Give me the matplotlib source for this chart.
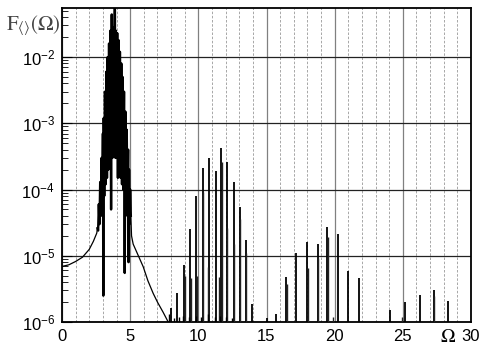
import numpy as np
import matplotlib
matplotlib.use("Agg")
from matplotlib import pyplot as plt
from matplotlib.ticker import MultipleLocator, LogLocator, NullFormatter, FormatStrFormatter

# smooth background curve, left and right of the main resonance
left_omega = [0.0, 0.5, 1.0, 1.5, 2.0, 2.3, 2.55]
left_F = [6.9e-6, 7.3e-6, 8.2e-6, 9.5e-6, 1.25e-5, 1.65e-5, 2.2e-5]

# main resonance, read as a jagged line (alternating tops and dips)
peak_omega = [2.60, 2.65, 2.70, 2.75, 2.80, 2.85, 2.90, 2.95, 3.00, 3.03,
              3.06, 3.10, 3.15, 3.20, 3.25, 3.30, 3.35, 3.40, 3.45, 3.50,
              3.55, 3.60, 3.65, 3.70, 3.75, 3.80, 3.85, 3.88, 3.92, 3.95,
              4.00, 4.05, 4.10, 4.15, 4.20, 4.25, 4.30, 4.35, 4.40, 4.45,
              4.50, 4.55, 4.60, 4.65, 4.70, 4.75, 4.80, 4.85, 4.88, 4.92,
              4.96, 5.00, 5.05]
peak_F = [2.6e-5, 2.4e-5, 6e-5, 3e-5, 1.3e-4, 4e-5, 3e-4, 5e-5, 7e-4, 2.5e-6,
          1.2e-3, 8e-5, 3e-3, 1.2e-4, 6e-3, 1.5e-4, 1e-2, 2e-4, 1.6e-2, 2.5e-4,
          2.5e-2, 5e-5, 4.4e-2, 3e-4, 2.8e-2, 4e-4, 2.6e-2, 8e-2, 3e-4, 2.5e-2,
          3e-4, 2.3e-2, 1.5e-4, 1.8e-2, 2e-4, 1.2e-2, 1.5e-4, 8e-3, 1.2e-4, 5e-3,
          1e-4, 3e-3, 5.5e-6, 1.5e-3, 6e-5, 8e-4, 4e-5, 4e-4, 8e-6, 2e-4,
          3e-5, 1e-4, 4e-5]

right_omega = [5.10, 5.22, 5.60, 5.96, 6.30, 6.69, 7.00, 7.42, 7.79]
right_F = [2e-5, 1.5e-5, 1e-5, 6.8e-6, 4.2e-6, 2.7e-6, 2e-6, 1.4e-6, 1e-6]

# higher harmonics: tall lines
spike_omega = [8.00, 8.47, 8.94, 9.38, 9.86, 10.31, 10.79, 11.26, 11.67, 12.11,
               12.58, 13.04, 13.48, 13.97, 15.00, 15.73, 16.46, 17.19, 18.00, 18.75,
               19.46, 20.25, 20.98, 21.76, 24.08, 25.18, 26.23, 27.25, 28.33]
spike_F = [1.6e-6, 2.7e-6, 7.2e-6, 2.5e-5, 8e-5, 2.1e-4, 3e-4, 1.9e-4, 4.2e-4, 2.6e-4,
           1.3e-4, 5.4e-5, 1.7e-5, 1.9e-6, 1.15e-6, 1.3e-6, 4.7e-6, 1.1e-5, 1.6e-5, 1.5e-5,
           2.7e-5, 2.1e-5, 5.8e-6, 4.6e-6, 1.5e-6, 2e-6, 2.6e-6, 3e-6, 2.1e-6]

# companion lines next to the tall ones
side_omega = [8.99, 9.43, 9.91, 10.36, 10.74, 11.50, 11.76, 12.07, 12.63, 13.09,
              13.53, 16.50, 17.10, 18.03, 18.78, 19.50, 19.90, 24.96, 27.30]
side_F = [5e-6, 4.6e-6, 5e-6, 9.3e-5, 6.7e-6, 4.7e-6, 2.6e-4, 2.6e-5, 1.5e-5, 3.6e-5,
          1.1e-5, 3.7e-6, 1.05e-6, 6.5e-6, 9.2e-6, 1.9e-5, 1.2e-6, 1.2e-6, 2.5e-6]

# tiny lines along the bottom
tiny_omega = [7.85, 8.20, 8.55, 8.85, 9.30, 9.80, 10.20, 10.70, 11.20, 11.60, 12.00, 12.45]
tiny_F = [1.3e-6, 1.15e-6, 1.2e-6, 1.25e-6, 1.2e-6, 1.25e-6, 1.2e-6, 1.3e-6, 1.2e-6, 1.25e-6, 1.2e-6, 1.15e-6]

y_bottom = 1e-6
y_top = 5.5e-2

plt.rcParams['font.family'] = ['Liberation Sans', 'DejaVu Sans']
plt.rcParams['mathtext.fontset'] = 'stix'

fig = plt.figure(figsize=(4.82, 3.5), dpi=100)
ax = fig.add_axes([62 / 482, 28 / 350, 409 / 482, 314 / 350])

ax.plot(left_omega + [peak_omega[0]], left_F + [peak_F[0]], color="black", lw=0.9, zorder=3)
ax.plot(peak_omega, peak_F, color="black", lw=1.7, zorder=3)
ax.plot([peak_omega[-1]] + right_omega, [peak_F[-1]] + right_F, color="black", lw=0.9, zorder=3)

ax.vlines(spike_omega, y_bottom, spike_F, color="black", lw=1.3, zorder=3)
ax.vlines(side_omega, y_bottom, side_F, color="#222222", lw=1.0, zorder=3)
ax.vlines(tiny_omega, y_bottom, tiny_F, color="black", lw=1.0, zorder=3)

ax.set_yscale("log")
ax.set_xlim(0, 30)
ax.set_ylim(y_bottom, y_top)

ax.xaxis.set_major_locator(MultipleLocator(5))
ax.xaxis.set_minor_locator(MultipleLocator(1))
ax.xaxis.set_major_formatter(FormatStrFormatter("%d"))
ax.yaxis.set_major_locator(LogLocator(base=10, numticks=10))
ax.yaxis.set_minor_locator(LogLocator(base=10, subs=np.arange(2, 10), numticks=20))
ax.yaxis.set_minor_formatter(NullFormatter())

ax.grid(True, axis="x", which="major", color="#808080", lw=0.9, ls="-")
ax.grid(True, axis="x", which="minor", color="#999999", lw=0.6, ls=(0, (3, 2)))
ax.grid(True, axis="y", which="major", color="#222222", lw=0.9, ls="-")
ax.set_axisbelow(True)

ax.tick_params(axis="x", which="both", length=0, pad=5, labelsize=12)
ax.tick_params(axis="y", which="major", direction="in", length=7, pad=5, labelsize=12)
ax.tick_params(axis="y", which="minor", direction="in", length=4)
for sp in ax.spines.values():
    sp.set_linewidth(1.3)

fig.text(6 / 482, 1 - 30 / 350, r"$\mathrm{F}_{\langle\rangle}(\Omega)$", fontsize=15,
         ha="left", va="baseline", color="#444444")
ax.text((448 - 62) / 409, -0.05, r"$\Omega$", transform=ax.transAxes, fontsize=14,
        ha="center", va="center")

fig.savefig("out.png", dpi=100)
